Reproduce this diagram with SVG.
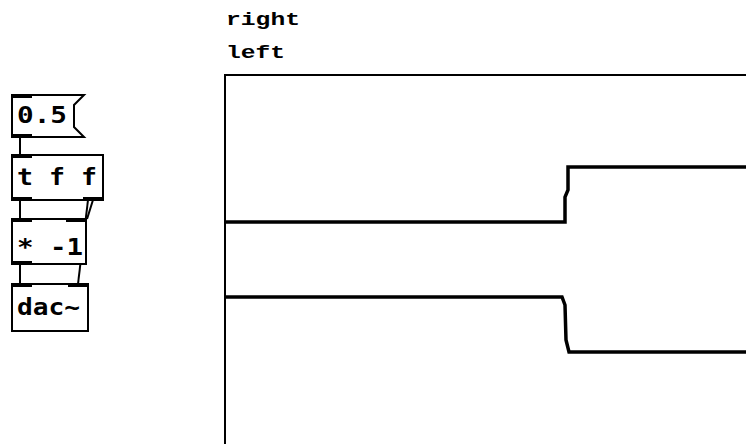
<svg xmlns="http://www.w3.org/2000/svg" width="746" height="444" viewBox="0 0 746 444">
<style>
.box{fill:#fff;stroke:#000;stroke-width:2}
.io{fill:#000}
.t{font-family:"DejaVu Sans Mono",monospace;font-weight:bold;font-size:23px;fill:#000}
.lbl{font-family:"Liberation Mono","Courier New",monospace;font-weight:bold;font-size:19px;fill:#000}
.c{stroke:#000;stroke-width:2;fill:none}
.d{stroke:#000;stroke-width:3.5;fill:none;stroke-linejoin:miter}
</style>
<rect width="746" height="444" fill="#fff"/>
<g id="connectors">
<line class="c" x1="20" y1="137" x2="20" y2="155"/>
<line class="c" x1="20" y1="200" x2="20" y2="219"/>
<line class="c" x1="93" y1="200" x2="87" y2="219"/>
<line class="c" x1="88" y1="200" x2="78" y2="284"/>
<line class="c" x1="20" y1="264" x2="20" y2="284"/>
</g>
<g id="msg05">
<path class="box" d="M12,95 H84 L74,105 V127 L84,137 H12 Z"/>
<rect class="io" x="12" y="94" width="20" height="4"/>
<rect class="io" x="12" y="134" width="20" height="4"/>
<text class="t" x="17" y="123" textLength="50" lengthAdjust="spacingAndGlyphs">0.5</text>
</g>
<g id="trigger">
<rect class="box" x="12" y="155" width="91" height="45"/>
<rect class="io" x="12" y="154" width="20" height="4"/>
<rect class="io" x="12" y="197" width="20" height="4"/>
<rect class="io" x="83" y="197" width="20" height="4"/>
<text class="t" x="17" y="185" textLength="80" lengthAdjust="spacingAndGlyphs">t f f</text>
</g>
<g id="mul">
<rect class="box" x="12" y="219" width="74" height="45"/>
<rect class="io" x="12" y="218" width="20" height="4"/>
<rect class="io" x="66" y="218" width="20" height="4"/>
<rect class="io" x="12" y="261" width="20" height="4"/>
<text class="t" x="17" y="255" textLength="66" lengthAdjust="spacingAndGlyphs">* -1</text>
</g>
<g id="dac">
<rect class="box" x="12" y="284" width="76" height="47"/>
<rect class="io" x="12" y="283" width="20" height="4"/>
<rect class="io" x="68" y="283" width="20" height="4"/>
<text class="t" x="17" y="315" textLength="63" lengthAdjust="spacingAndGlyphs">dac~</text>
</g>
<g id="graph">
<rect x="225" y="75" width="600" height="420" fill="none" stroke="#000" stroke-width="2"/>
<text class="lbl" x="226" y="25" textLength="74" lengthAdjust="spacingAndGlyphs">right</text>
<text class="lbl" x="226" y="58" textLength="59" lengthAdjust="spacingAndGlyphs">left</text>
<polyline class="d" points="225,222 565,222 565,197 568,190 568,167 746,167"/>
<polyline class="d" points="225,297 562,297 565,305 566,340 569,352 746,352"/>
</g>
</svg>
